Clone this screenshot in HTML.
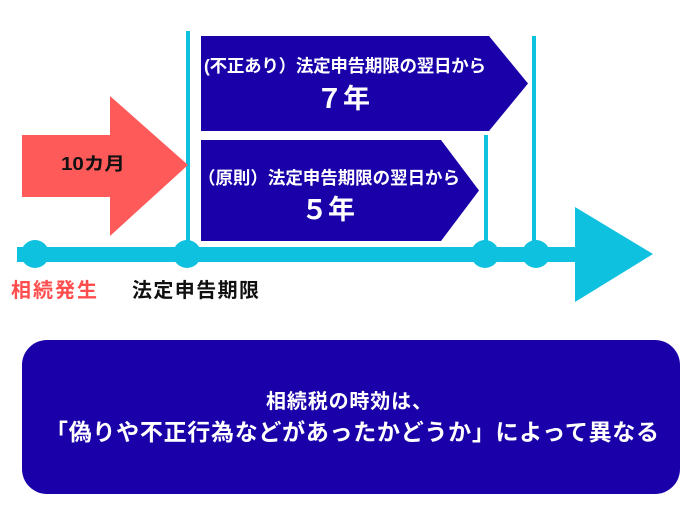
<!DOCTYPE html>
<html>
<head>
<meta charset="utf-8">
<style>
  html,body{margin:0;padding:0;background:#fff;}
  svg{display:block;}
  text{font-family:"Liberation Sans","Noto Sans CJK JP",sans-serif;font-weight:bold;}
</style>
</head>
<body>
<svg width="700" height="525" viewBox="0 0 700 525" xmlns="http://www.w3.org/2000/svg">
  <!-- vertical markers -->
  <rect x="186" y="31" width="4" height="223" fill="#0DC1DF"/>
  <rect x="484" y="135" width="4" height="119" fill="#0DC1DF"/>
  <rect x="532" y="36" width="4" height="218" fill="#0DC1DF"/>

  <!-- red arrow -->
  <polygon points="22,135 110,135 110,96 188,165 110,236 110,197 22,197" fill="#FF5A5A"/>
  <text x="61" y="170" font-size="18" fill="#111" textLength="64" lengthAdjust="spacingAndGlyphs">10カ月</text>

  <!-- top pentagon -->
  <polygon points="201,36 489,36 528,83.5 489,131 201,131" fill="#1A00A8"/>
  <text x="204" y="72" font-size="17.5" fill="#fff" textLength="282" lengthAdjust="spacing">(不正あり）法定申告期限の翌日から</text>
  <text x="316" y="108" font-size="27" fill="#fff">７年</text>

  <!-- bottom pentagon -->
  <polygon points="201,140 441,140 479,190.5 441,241 201,241" fill="#1A00A8"/>
  <text x="198" y="184" font-size="17.5" fill="#fff" textLength="262" lengthAdjust="spacing">（原則）法定申告期限の翌日から</text>
  <text x="301" y="219" font-size="27" fill="#fff">５年</text>

  <!-- timeline -->
  <rect x="17" y="247" width="559" height="15" fill="#0DC1DF"/>
  <polygon points="575,207 653,254 575,302" fill="#0DC1DF"/>
  <circle cx="35" cy="254" r="14" fill="#0DC1DF"/>
  <circle cx="187" cy="254" r="14" fill="#0DC1DF"/>
  <circle cx="485" cy="254" r="14" fill="#0DC1DF"/>
  <circle cx="536" cy="254" r="14" fill="#0DC1DF"/>

  <!-- labels -->
  <text x="11" y="297" font-size="20" fill="#FF4D4D" textLength="86" lengthAdjust="spacing">相続発生</text>
  <text x="132" y="297" font-size="20" fill="#111" textLength="127" lengthAdjust="spacing">法定申告期限</text>

  <!-- bottom box -->
  <rect x="22" y="340" width="658" height="154" rx="25" ry="25" fill="#1A00A8"/>
  <text x="266" y="408" font-size="20" fill="#fff" textLength="166" lengthAdjust="spacing">相続税の時効は、</text>
  <text x="45" y="440" font-size="23" fill="#fff" textLength="614" lengthAdjust="spacing">「偽りや不正行為などがあったかどうか」によって異なる</text>
</svg>
</body>
</html>
